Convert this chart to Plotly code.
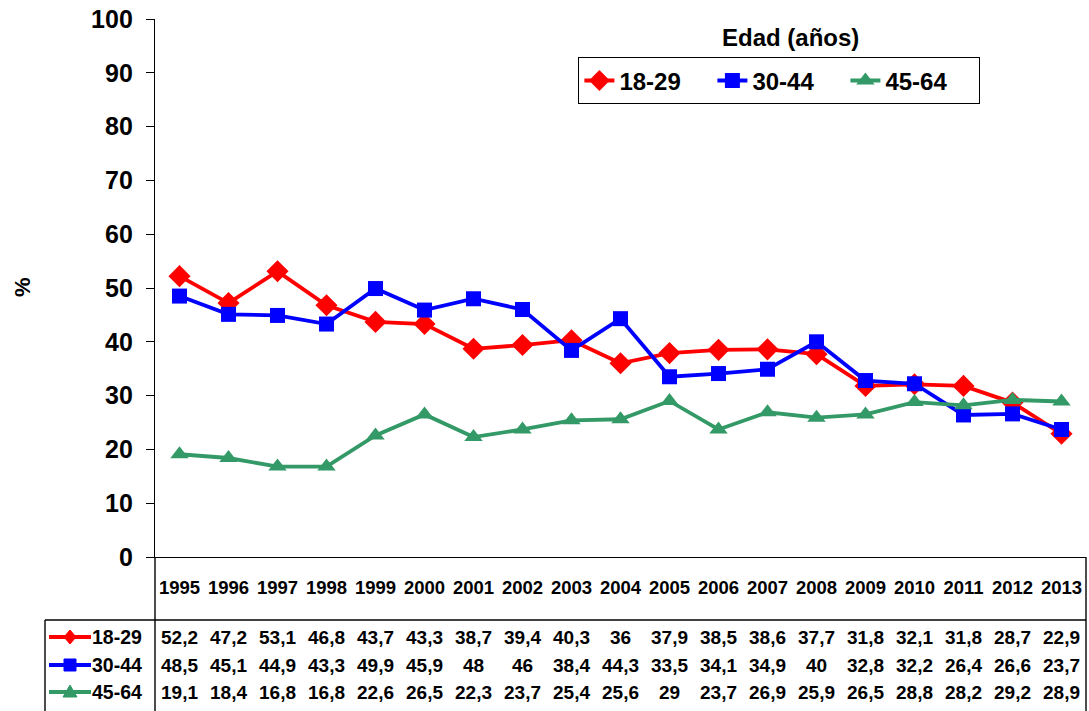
import plotly.graph_objects as go

years = [str(y) for y in range(1995, 2014)]
s_18_29 = [52.2, 47.2, 53.1, 46.8, 43.7, 43.3, 38.7, 39.4, 40.3, 36, 37.9, 38.5, 38.6, 37.7, 31.8, 32.1, 31.8, 28.7, 22.9]
s_30_44 = [48.5, 45.1, 44.9, 43.3, 49.9, 45.9, 48, 46, 38.4, 44.3, 33.5, 34.1, 34.9, 40, 32.8, 32.2, 26.4, 26.6, 23.7]
s_45_64 = [19.1, 18.4, 16.8, 16.8, 22.6, 26.5, 22.3, 23.7, 25.4, 25.6, 29, 23.7, 26.9, 25.9, 26.5, 28.8, 28.2, 29.2, 28.9]
series_names = ["18-29", "30-44", "45-64"]
y_ticks = [0, 10, 20, 30, 40, 50, 60, 70, 80, 90, 100]

series = [s_18_29, s_30_44, s_45_64]
colors = ["#FF0000", "#0000FF", "#339966"]
symbols = ["diamond", "square", "triangle-up"]
msizes = [17, 15, 16]

OFF = 0  # body margin removed via post_script
W, H = 1089 - OFF, 711 - OFF
L, R, T, B = 155, 3, 19, 154
PW, PH = W - L - R, H - T - B
FONT = "Arial, Liberation Sans, sans-serif"

def px(x):
    return (x - OFF - L) / PW

def py(y):
    return (H - B - (y - OFF)) / PH

fig = go.Figure()
for name, vals, c, s, ms in zip(series_names, series, colors, symbols, msizes):
    fig.add_trace(go.Scatter(
        x=years, y=vals, name=name, mode="lines+markers",
        line=dict(color=c, width=3.8),
        marker=dict(symbol=s, size=ms, color=c),
        cliponaxis=False,
    ))

annotations = []
shapes = []

# Legend title
annotations.append(dict(text="Edad (años)", x=px(790), y=py(38), xref="paper", yref="paper",
                        xanchor="center", yanchor="middle",
                        showarrow=False, font=dict(family=FONT, size=24, color="black", weight="bold")))
# y-axis title
annotations.append(dict(text="%", x=px(22), y=py(287), xref="paper", yref="paper", textangle=-90,
                        xanchor="center", yanchor="middle",
                        showarrow=False, font=dict(family=FONT, size=22, color="black", weight="bold")))

# Data table
row_y = [637, 665, 692]
for i, (name, vals, c, s) in enumerate(zip(series_names, series, colors, symbols)):
    yy = py(row_y[i])
    for j, v in enumerate(vals):
        annotations.append(dict(text=f"{v:g}".replace(".", ","), x=j, y=yy, xref="x", yref="paper",
                                showarrow=False, xanchor="center", yanchor="middle",
                                font=dict(family=FONT, size=19, color="black", weight="bold")))
    annotations.append(dict(text=name, x=px(144), y=yy, xref="paper", yref="paper", showarrow=False,
                            xanchor="right", yanchor="middle",
                            font=dict(family=FONT, size=19.5, color="black", weight="bold")))
    # key line
    shapes.append(dict(type="line", xref="paper", yref="paper", x0=px(49), x1=px(91), y0=yy, y1=yy,
                       line=dict(color=c, width=3.8)))
    cx, cy, r = 70, row_y[i], 6
    if s == "diamond":
        pts = [(cx, cy - r - 1), (cx + r, cy), (cx, cy + r + 1), (cx - r, cy)]
    elif s == "square":
        pts = [(cx - r, cy - r), (cx + r, cy - r), (cx + r, cy + r), (cx - r, cy + r)]
    else:
        pts = [(cx, cy - r - 1), (cx + r + 1, cy + r - 1), (cx - r - 1, cy + r - 1)]
    path = "M " + " L ".join(f"{px(a)},{py(b)}" for a, b in pts) + " Z"
    shapes.append(dict(type="path", xref="paper", yref="paper", path=path, fillcolor=c,
                       line=dict(color=c, width=1)))

# table borders
bl = dict(color="black", width=1.4)
shapes += [
    dict(type="line", xref="paper", yref="paper", x0=px(45), x1=1, y0=py(620), y1=py(620), line=bl),
    dict(type="line", xref="paper", yref="paper", x0=px(45), x1=px(45), y0=py(620), y1=py(730), line=bl),
    dict(type="line", xref="paper", yref="paper", x0=1, x1=1, y0=0, y1=py(730), line=bl),
    dict(type="line", xref="paper", yref="paper", x0=0, x1=0, y0=0, y1=py(730), line=bl),
]

fig.update_layout(
    width=W, height=H,
    margin=dict(l=L, r=R, t=T, b=B, autoexpand=False),
    paper_bgcolor="white", plot_bgcolor="white",
    font=dict(family=FONT, color="black"),
    showlegend=True,
    legend=dict(orientation="h", x=px(578), y=py(57), xanchor="left", yanchor="top",
                bordercolor="black", borderwidth=1.4, bgcolor="white",
                font=dict(family=FONT, size=24, color="black", weight="bold"),
                entrywidth=88, entrywidthmode="pixels", tracegroupgap=0),
    xaxis=dict(type="category", range=[-0.5, len(years) - 0.5], showline=True, linecolor="black",
               linewidth=1.4, ticks="", showgrid=False, zeroline=False,
               tickfont=dict(family=FONT, size=18.5, color="black", weight="bold"),
               ticklabelstandoff=14),
    yaxis=dict(range=[0, 100], tickvals=y_ticks, showline=True, linecolor="black", linewidth=1.4,
               ticks="outside", ticklen=8, tickcolor="black", showgrid=False, zeroline=False,
               tickfont=dict(family=FONT, size=25, color="black", weight="bold"),
               ticklabelstandoff=8, ticklabeloverflow="allow"),
    annotations=annotations, shapes=shapes,
)

fig.write_html("out.html", config={"displayModeBar": False},
               post_script="document.body.style.margin='0';document.body.style.overflow='hidden';")
